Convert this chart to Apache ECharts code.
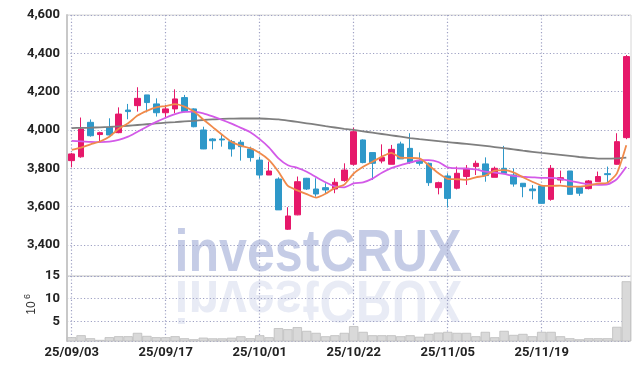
<!DOCTYPE html>
<html><head><meta charset="utf-8">
<script src="https://cdn.jsdelivr.net/npm/echarts@6/dist/echarts.min.js"></script>
<style>html,body{margin:0;padding:0;background:#fff}#c{width:639px;height:370px}</style>
</head><body><div id="c"></div><script>
const dates = ['25/09/03','25/09/04','25/09/05','25/09/08','25/09/09','25/09/10','25/09/11','25/09/12','25/09/15','25/09/16',
 '25/09/17','25/09/18','25/09/19','25/09/22','25/09/23','25/09/24','25/09/25','25/09/26','25/09/29','25/09/30',
 '25/10/01','25/10/02','25/10/10','25/10/13','25/10/14','25/10/15','25/10/16','25/10/17','25/10/20','25/10/21',
 '25/10/22','25/10/23','25/10/24','25/10/27','25/10/28','25/10/29','25/10/30','25/10/31','25/11/03','25/11/04',
 '25/11/05','25/11/06','25/11/07','25/11/10','25/11/11','25/11/12','25/11/13','25/11/14','25/11/17','25/11/18',
 '25/11/19','25/11/20','25/11/21','25/11/24','25/11/25','25/11/26','25/11/27','25/11/28','25/12/01','25/12/02'];
const open  = [3840,3860,4040,3976,4014,3986,4104,4127,4183,4136, 4090,4110,4169,4110,4000,3953,3953,3939,3936,3901,
 3843,3765,3744,3482,3557,3748,3692,3699,3692,3736, 3821,3948,3882,3838,3821,3927,3904,3840,3826,3699,
 3760,3696,3757,3809,3823,3753,3800,3765,3722,3692, 3708,3638,3739,3786,3699,3694,3730,3772,3821,3960];
const close = [3875,4005,3970,3986,3974,4083,4096,4165,4143,4090, 4110,4162,4096,4017,3901,3944,3948,3901,3913,3856,
 3765,3786,3583,3551,3730,3692,3666,3687,3727,3791, 3991,3830,3826,3856,3899,3849,3830,3826,3725,3725,
 3643,3774,3800,3826,3762,3800,3774,3718,3704,3683, 3617,3800,3751,3664,3670,3734,3757,3767,3939,4383];
const low   = [3805,3855,3965,3939,3970,3983,4056,4096,4092,4070, 4061,4087,4092,4014,3900,3899,3913,3861,3840,3835,
 3748,3765,3583,3478,3555,3687,3652,3670,3670,3730, 3814,3826,3739,3826,3821,3849,3823,3814,3708,3664,
 3595,3690,3713,3765,3730,3753,3770,3704,3649,3638, 3614,3631,3722,3664,3656,3690,3730,3722,3819,3952];
const high  = [3880,4065,4055,3991,4061,4118,4136,4223,4183,4165, 4130,4212,4183,4113,4017,3957,3977,3948,3948,3913,
 3861,3835,3753,3597,3757,3750,3748,3722,3748,3826, 4012,3951,3882,3925,3922,3939,3983,3883,3830,3730,
 3774,3809,3817,3840,3857,3809,3917,3800,3722,3713, 3708,3817,3788,3786,3699,3739,3783,3809,3983,4391];
const ma5 = [3896,3908,3925,3940,3965,4006,4035,4075,4100,4118, 4125,4135,4122,4096,4055,4015,3975,3938,3918,3905,
 3880,3843,3782,3708,3685,3665,3647,3667,3698,3715, 3773,3808,3834,3861,3881,3855,3854,3852,3815,3775,
 3745,3743,3740,3753,3762,3788,3791,3779,3753,3730, 3710,3708,3710,3704,3704,3711,3720,3725,3774,3920];
const ma10 = [3943,3941,3938,3937,3939,3948,3965,3991,4017,4042, 4064,4083,4094,4096,4087,4071,4053,4033,4011,3988,
 3952,3908,3852,3816,3802,3782,3754,3727,3706,3701, 3721,3727,3746,3777,3801,3817,3830,3842,3843,3833,
 3805,3800,3798,3794,3783,3778,3771,3760,3756,3753, 3750,3750,3745,3734,3725,3717,3714,3716,3744,3808];
const maLong = [4010,4011,4012,4014,4016,4019,4022,4026,4030,4034, 4038,4041,4045,4048,4052,4055,4058,4059,4060,4060,
 4060,4058,4055,4049,4042,4035,4028,4020,4013,4006, 4000,3993,3986,3979,3972,3965,3958,3952,3947,3942,
 3937,3932,3927,3922,3917,3911,3905,3899,3892,3886, 3880,3875,3870,3865,3859,3854,3851,3850,3852,3856];
const volume = [1.5,1.94,1.27,0.9,1.5,1.72,1.72,2.46,1.79,1.5, 1.5,1.72,1.27,1.05,1.4,1.25,1.25,1.38,1.7,1.27,
 1.93,1.49,3.5,3.27,3.72,2.9,2.46,1.7,1.93,2.46, 3.94,2.68,1.93,1.93,1.93,1.7,1.93,1.6,2.23,2.53,
 2.68,2.46,2.46,1.71,2.68,1.49,2.9,2.01,2.23,1.71, 2.68,2.68,1.71,1.27,1.04,1.27,1.27,1.27,3.79,13.84];

const UP = '#e6186a', DOWN = '#2e98c9';
const LBL = {fontFamily:'Roboto', fontWeight:'bold', fontSize:13, color:'#222'};
const GRIDC = '#9ea1c4';
function spl(){ return {show:true, interval:9, alignWithLabel:true, lineStyle:{color:GRIDC, type:[1.2,2.2], width:1.2}}; }
const chart = echarts.init(document.getElementById('c'), null, {renderer:'canvas'});
const candles = dates.map((d,i)=>[open[i], close[i], low[i], high[i]]);
const wmFont = 'bold 59px "Liberation Sans", sans-serif';
chart.setOption({
  animation:false,
  backgroundColor:'#fff',
  grid:[
    {left:67, right:8, top:15, height:261, show:true, borderColor:'#d6d6d6', borderWidth:1, z:-1},
    {left:67, right:8, top:276, height:65, show:true, borderColor:'#d6d6d6', borderWidth:1, z:-1}
  ],
  xAxis:[
    {type:'category', gridIndex:0, data:dates, boundaryGap:true, z:1,
     axisLine:{show:false}, axisTick:{show:false, interval:9, alignWithLabel:true}, axisLabel:{show:false, interval:9},
     splitLine:spl()},
    {type:'category', gridIndex:1, data:dates, boundaryGap:true, z:1,
     axisLine:{show:false}, axisTick:{show:false, interval:9, alignWithLabel:true},
     axisLabel:Object.assign({interval:9, margin:5}, LBL),
     splitLine:spl()}
  ],
  yAxis:[
    {type:'value', gridIndex:0, min:3238, max:4600, splitNumber:7, z:1,
     axisLine:{show:true, lineStyle:{color:'#c8c8c8', width:2}}, axisTick:{show:false},
     axisLabel:Object.assign({margin:7, showMinLabel:false,
       formatter:v=> (Math.round(v)%200===0 ? Math.round(v).toLocaleString('en-US') : '')}, LBL),
     splitLine:{show:true, lineStyle:{color:GRIDC, type:[1.2,2.2], width:1.2}}},
    {type:'value', gridIndex:1, min:0.66, max:15, splitNumber:3, z:1,
     axisLine:{show:true, lineStyle:{color:'#c8c8c8', width:2}}, axisTick:{show:false},
     axisLabel:Object.assign({margin:7, showMinLabel:false,
       formatter:v=> (Math.abs(v%5)<1e-6 ? String(Math.round(v)) : '')}, LBL),
     splitLine:{show:true, lineStyle:{color:GRIDC, type:[1.2,2.2], width:1.2}}}
  ],
  graphic:[
    {type:'text', x:318, y:275, scaleX:0.85, z:-10, silent:true,
     style:{x:0, y:-20, text:'investCRUX', font:wmFont, fill:'rgba(150,163,210,0.55)', align:'center', verticalAlign:'middle'}},
    {type:'text', x:318, y:277, scaleX:0.85, scaleY:-1, z:-10, silent:true,
     style:{x:0, y:-20, text:'investCRUX', font:wmFont, fill:'rgba(150,163,210,0.22)', align:'center', verticalAlign:'middle'}},
    {type:'text', x:32, y:308, rotation:Math.PI/2, silent:true,
     style:{x:0, y:0, text:'10', font:'12px "Liberation Sans", sans-serif', fill:'#333', align:'center', verticalAlign:'middle'}},
    {type:'text', x:27.5, y:296.5, rotation:Math.PI/2, silent:true,
     style:{x:0, y:0, text:'6', font:'9px "Liberation Sans", sans-serif', fill:'#333', align:'center', verticalAlign:'middle'}}
  ],
  series:[
    {type:'candlestick', xAxisIndex:0, yAxisIndex:0, data:candles, barWidth:6, z:3,
     itemStyle:{color:UP, color0:DOWN, borderColor:UP, borderColor0:DOWN, borderWidth:1}},
    {type:'line', xAxisIndex:0, yAxisIndex:0, data:maLong, symbol:'none', smooth:0.2, z:4,
     lineStyle:{color:'#7f7f7f', width:1.8}},
    {type:'line', xAxisIndex:0, yAxisIndex:0, data:ma10, symbol:'none', smooth:0.2, z:4,
     lineStyle:{color:'#d35ae8', width:1.8}},
    {type:'line', xAxisIndex:0, yAxisIndex:0, data:ma5, symbol:'none', smooth:0.2, z:5,
     lineStyle:{color:'#f08a4b', width:1.8}},
    {type:'bar', xAxisIndex:1, yAxisIndex:1, data:volume, barCategoryGap:'0%', z:3,
     itemStyle:{color:'#d9d9d9', borderColor:'#bdbdbd', borderWidth:0.8}}
  ]
});
</script></body></html>
